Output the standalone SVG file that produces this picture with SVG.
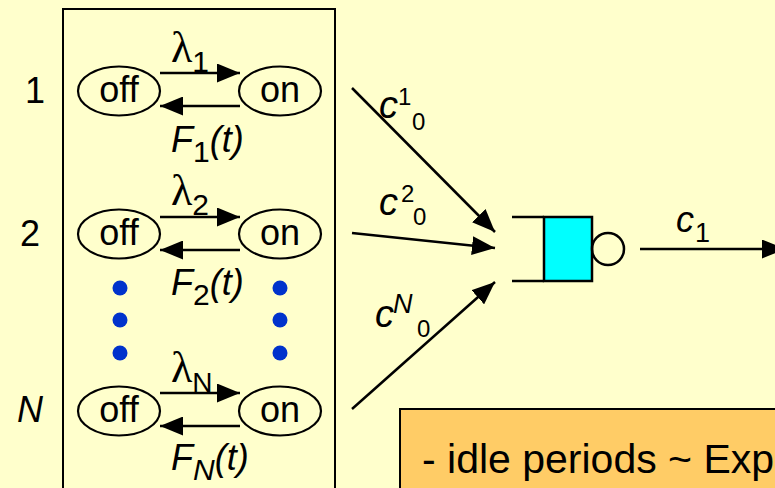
<svg xmlns="http://www.w3.org/2000/svg" width="775" height="488" viewBox="0 0 775 488">
<defs>
<marker id="ah" markerUnits="userSpaceOnUse" markerWidth="23" markerHeight="19" refX="23" refY="9.5" orient="auto" viewBox="0 0 23 19">
<path d="M0,0 L23,9.5 L0,19 z" fill="#000"/>
</marker>
<style>
.t{font-family:"Liberation Sans",Arial,sans-serif;fill:#000}
.st{font-size:36px}
.it{font-style:italic}
.lam{font-family:"Liberation Serif","Times New Roman",serif;font-size:44px;fill:#000}
.sub{font-size:30px}
.sm{font-size:24px}
.ell{fill:none;stroke:#000;stroke-width:2.2}
.ln{stroke:#000;stroke-width:2.5;fill:none}
.dot{fill:#0033CC}
</style>
</defs>
<rect width="775" height="488" fill="#FFFFCC"/>
<rect x="63" y="9" width="272" height="490" fill="none" stroke="#000" stroke-width="2"/>

<g id="row-labels">
<text class="t st" x="35" y="103" text-anchor="middle">1</text>
<text class="t st" x="30" y="246" text-anchor="middle">2</text>
<text class="t st it" x="30" y="422" text-anchor="middle">N</text>
</g>

<g id="off1"><ellipse class="ell" cx="119" cy="91" rx="41" ry="24.5"/><text class="t st" x="119" y="102" text-anchor="middle">off</text></g>
<g id="on1"><ellipse class="ell" cx="280" cy="91" rx="41" ry="24.5"/><text class="t st" x="280" y="102" text-anchor="middle">on</text></g>
<g id="off2"><ellipse class="ell" cx="119" cy="234" rx="41" ry="24.5"/><text class="t st" x="119" y="245" text-anchor="middle">off</text></g>
<g id="on2"><ellipse class="ell" cx="280" cy="234" rx="41" ry="24.5"/><text class="t st" x="280" y="245" text-anchor="middle">on</text></g>
<g id="offN"><ellipse class="ell" cx="119" cy="411" rx="41" ry="24.5"/><text class="t st" x="119" y="422" text-anchor="middle">off</text></g>
<g id="onN"><ellipse class="ell" cx="280" cy="411" rx="41" ry="24.5"/><text class="t st" x="280" y="422" text-anchor="middle">on</text></g>

<g id="dots">
<circle class="dot" cx="120" cy="288" r="7.5"/><circle class="dot" cx="120" cy="320" r="7.5"/><circle class="dot" cx="120" cy="353" r="7.5"/>
<circle class="dot" cx="280" cy="288" r="7.5"/><circle class="dot" cx="280" cy="320" r="7.5"/><circle class="dot" cx="280" cy="353" r="7.5"/>
</g>

<g id="queue">
<line class="ln" x1="512" y1="217" x2="544" y2="217"/>
<line class="ln" x1="512" y1="281" x2="544" y2="281"/>
<rect x="544" y="217" width="48" height="64" fill="#00FFFF" stroke="#000" stroke-width="2.5"/>
<circle cx="608" cy="249" r="16" fill="none" stroke="#000" stroke-width="2.5"/>
</g>

<g id="connectors">
<line class="ln" x1="160" y1="73" x2="240" y2="73" marker-end="url(#ah)"/>
<line class="ln" x1="240" y1="106" x2="160" y2="106" marker-end="url(#ah)"/>
<line class="ln" x1="160" y1="217" x2="240" y2="217" marker-end="url(#ah)"/>
<line class="ln" x1="240" y1="250" x2="160" y2="250" marker-end="url(#ah)"/>
<line class="ln" x1="160" y1="393" x2="240" y2="393" marker-end="url(#ah)"/>
<line class="ln" x1="240" y1="426" x2="160" y2="426" marker-end="url(#ah)"/>
<line class="ln" x1="352" y1="88" x2="495" y2="232" marker-end="url(#ah)"/>
<line class="ln" x1="352" y1="233" x2="495" y2="248" marker-end="url(#ah)"/>
<line class="ln" x1="352" y1="409" x2="495" y2="282" marker-end="url(#ah)"/>
<line class="ln" x1="640" y1="249" x2="785" y2="249" marker-end="url(#ah)"/>
</g>

<g id="labels">
<text x="171" y="62"><tspan class="lam">λ</tspan><tspan class="t sub" dy="10">1</tspan></text>
<text x="171" y="152" class="t st it">F<tspan class="sub" dy="10" font-style="normal">1</tspan><tspan dy="-10">(t)</tspan></text>
<text x="171" y="205"><tspan class="lam">λ</tspan><tspan class="t sub" dy="10">2</tspan></text>
<text x="171" y="295" class="t st it">F<tspan class="sub" dy="10" font-style="normal">2</tspan><tspan dy="-10">(t)</tspan></text>
<text x="171" y="382"><tspan class="lam">λ</tspan><tspan class="t" font-size="28" dy="10">N</tspan></text>
<text x="171" y="470" class="t st it">F<tspan class="sub" dy="10">N</tspan><tspan dy="-10">(t)</tspan></text>

<text class="t it" font-size="38" x="379" y="118">c</text><text class="t sm" x="398" y="105">1</text><text class="t sm" x="412" y="130">0</text>
<text class="t it" font-size="38" x="379" y="215">c</text><text class="t sm" x="401" y="202">2</text><text class="t sm" x="413" y="225">0</text>
<text class="t it" font-size="38" x="375" y="327">c</text><text class="t it" font-size="27" x="393" y="313">N</text><text class="t sm" x="417" y="337">0</text>
<text class="t it" font-size="36" x="676" y="232">c</text><text class="t" font-size="27" x="695" y="242">1</text>
</g>

<g id="note">
<rect x="400" y="409" width="400" height="100" fill="#FFCC66" stroke="#000" stroke-width="2"/>
<text class="t" x="422" y="473" font-size="41">- idle periods ~ Exp</text>
</g>
</svg>
